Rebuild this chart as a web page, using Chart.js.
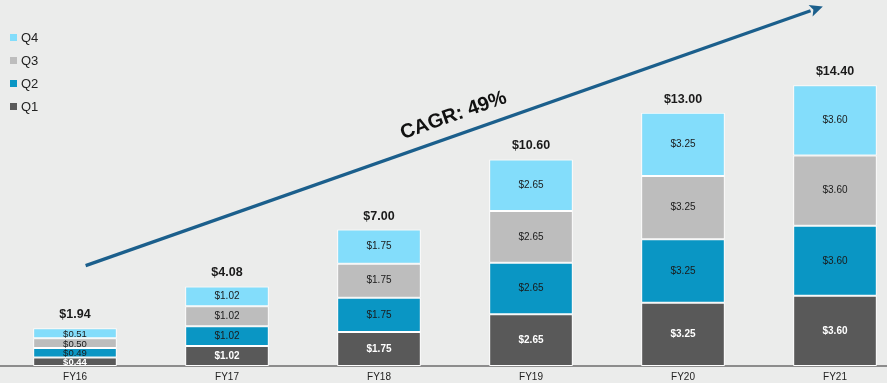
<!DOCTYPE html>
<html>
<head>
<meta charset="utf-8">
<script src="https://cdn.jsdelivr.net/npm/chart.js@4.4.0/dist/chart.umd.min.js"></script>
<style>
  html, body { margin: 0; padding: 0; background: #ebeceb; overflow: hidden; }
  body { width: 887px; height: 383px; position: relative; }
  #wrap { position: absolute; left: -1px; top: 0; width: 912px; height: 390px; }
  #legend { position: absolute; left: 10px; top: 26px; font-family: Arial, "Liberation Sans", sans-serif; font-size: 13px; color: #222; }
  #legend div { height: 23px; line-height: 18px; display: flex; align-items: center; }
  #legend span.sw { display: inline-block; width: 7px; height: 7px; margin-right: 4px; }
</style>
</head>
<body>
<div id="wrap"><canvas id="c"></canvas></div>
<div id="legend"></div>
<script>
const categories = ["FY16", "FY17", "FY18", "FY19", "FY20", "FY21"];
const q1 = [0.44, 1.02, 1.75, 2.65, 3.25, 3.60];
const q2 = [0.49, 1.02, 1.75, 2.65, 3.25, 3.60];
const q3 = [0.50, 1.02, 1.75, 2.65, 3.25, 3.60];
const q4 = [0.51, 1.02, 1.75, 2.65, 3.25, 3.60];
const totals = [1.94, 4.08, 7.00, 10.60, 13.00, 14.40];
const seriesNames = ["Q1", "Q2", "Q3", "Q4"];
const colors = ["#595959", "#0a96c4", "#bdbdbd", "#83ddfb"];
const labelColors = ["#ffffff", "#1a1a1a", "#1a1a1a", "#1a1a1a"];
const cagrLabel = "CAGR: 49%";
// arrow endpoints in data space (category index, value)
const arrowStart = [0.07, 5.15];
const arrowEnd = [4.92, 18.45];
const cagrPos = [2.49, 12.85];

const F = 'Arial, "Liberation Sans", sans-serif';
const series = [q1, q2, q3, q4];

const datasets = series.map((d, i) => ({
  label: seriesNames[i],
  data: d,
  backgroundColor: colors[i],
  borderColor: "#ffffff",
  borderWidth: 1,
  borderSkipped: false,
  categoryPercentage: 1.0,
  barPercentage: 0.55
}));

// HTML legend (Q4 at top)
const leg = document.getElementById("legend");
for (let i = seriesNames.length - 1; i >= 0; i--) {
  const row = document.createElement("div");
  row.innerHTML = '<span class="sw" style="background:' + colors[i] + '"></span>' + seriesNames[i];
  leg.appendChild(row);
}

const labelsPlugin = {
  id: "labels",
  afterDatasetsDraw(chart) {
    const ctx = chart.ctx;
    ctx.save();
    ctx.textAlign = "center";
    ctx.textBaseline = "middle";
    chart.data.datasets.forEach((ds, di) => {
      const meta = chart.getDatasetMeta(di);
      meta.data.forEach((bar, j) => {
        const v = ds.data[j];
        const small = j === 0;
        ctx.font = (di === 0 ? "bold " : "") + (small ? "9.5px " : "10px ") + F;
        ctx.fillStyle = labelColors[di];
        const cy = (bar.y + bar.base) / 2 + (small ? 1 : 0);
        ctx.fillText("$" + v.toFixed(2), bar.x, cy);
      });
    });
    // totals
    const top = chart.getDatasetMeta(chart.data.datasets.length - 1);
    ctx.font = "bold 12.5px " + F;
    ctx.fillStyle = "#1a1a1a";
    ctx.textBaseline = "alphabetic";
    top.data.forEach((bar, j) => {
      ctx.fillText("$" + totals[j].toFixed(2), bar.x, bar.y - 10);
    });
    ctx.restore();
  }
};

const arrowPlugin = {
  id: "arrow",
  afterDraw(chart) {
    const xs = chart.scales.x, ys = chart.scales.y;
    const ctx = chart.ctx;
    const x0 = xs.getPixelForValue(arrowStart[0]), y0 = ys.getPixelForValue(arrowStart[1]);
    const x1 = xs.getPixelForValue(arrowEnd[0]), y1 = ys.getPixelForValue(arrowEnd[1]);
    const ang = Math.atan2(y1 - y0, x1 - x0);
    const head = 13, hw = 6;
    const bx = x1 - head * Math.cos(ang), by = y1 - head * Math.sin(ang);
    ctx.save();
    ctx.strokeStyle = "#1b5f8c";
    ctx.fillStyle = "#1b5f8c";
    ctx.lineWidth = 3.2;
    ctx.beginPath();
    ctx.moveTo(x0, y0);
    ctx.lineTo(bx, by);
    ctx.stroke();
    ctx.beginPath();
    ctx.moveTo(x1, y1);
    ctx.lineTo(bx + hw * Math.sin(ang), by - hw * Math.cos(ang));
    ctx.lineTo(bx + 3 * Math.cos(ang), by + 3 * Math.sin(ang));
    ctx.lineTo(bx - hw * Math.sin(ang), by + hw * Math.cos(ang));
    ctx.closePath();
    ctx.fill();
    // CAGR text
    const tx = xs.getPixelForValue(cagrPos[0]), ty = ys.getPixelForValue(cagrPos[1]);
    ctx.translate(tx, ty);
    ctx.rotate(ang);
    ctx.font = "bold 20px " + F;
    ctx.fillStyle = "#111";
    ctx.textAlign = "center";
    ctx.textBaseline = "middle";
    ctx.fillText(cagrLabel, 0, 0);
    ctx.restore();
  }
};

new Chart(document.getElementById("c"), {
  type: "bar",
  data: { labels: categories, datasets },
  options: {
    responsive: true,
    maintainAspectRatio: false,
    animation: false,
    layout: { padding: { left: 0, right: 0, top: 0, bottom: 2 } },
    plugins: { legend: { display: false }, tooltip: { enabled: false } },
    scales: {
      x: {
        stacked: true,
        grid: { display: false, drawTicks: false },
        border: { display: true, color: "#8c8c8c", width: 2 },
        ticks: { color: "#222", font: { family: F, size: 10 }, padding: 5 }
      },
      y: {
        stacked: true,
        display: false,
        min: 0,
        max: 18.78
      }
    }
  },
  plugins: [labelsPlugin, arrowPlugin]
});
</script>
</body>
</html>
